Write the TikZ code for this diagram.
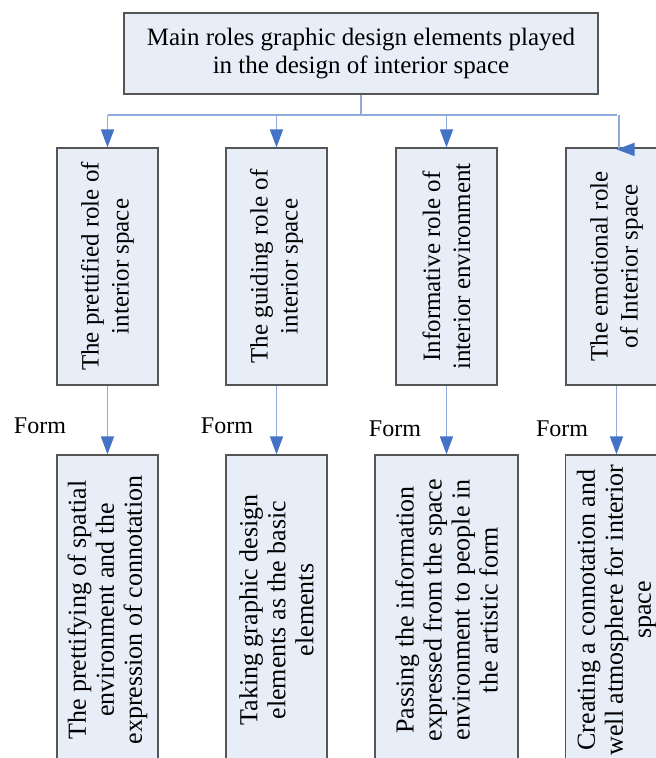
\documentclass[tikz,border=0pt]{standalone}
\usepackage{fontspec}
\setmainfont{Liberation Serif}
\usetikzlibrary{arrows.meta}
\definecolor{boxfill}{RGB}{232,238,248}
\definecolor{boxline}{RGB}{85,85,85}
\definecolor{linkline}{RGB}{143,170,220}
\definecolor{tipblue}{RGB}{68,114,196}

\begin{document}
\begin{tikzpicture}[x=1pt, y=-1pt,
    role/.style={draw=boxline, line width=1.2pt, fill=boxfill, inner sep=0pt, align=center},
    wire/.style={draw=linkline, line width=1.4pt},
    link/.style={wire, -{Triangle[width=13pt, length=18pt, color=tipblue]}}]
  \useasboundingbox (0,0) rectangle (656,758);
  % main box
  \node[role, minimum width=474pt, minimum height=81pt, font=\fontsize{25}{28}\selectfont] (main) at (361,53.5)
    {Main roles graphic design elements played\\in the design of interior space};
  \coordinate (bus) at (361,115);
  % roles
  \foreach \x/\t [count=\n] in {107.5/{The prettified role of\\interior space},
      276.5/{The guiding role of\\interior space},
      446.5/{Informative role of\\interior environment},
      616.5/{The emotional role\\of Interior space}} {
    \node[role, rotate=90, minimum width=237pt, minimum height=101pt, font=\fontsize{25}{30}\selectfont] (r\n) at (\x,266.5) {\t};
  }
  % results
  \foreach \x/\w/\t [count=\n] in {107.5/101/{The prettifying of spatial\\environment and the\\expression of connotation},
      276.5/101/{Taking graphic design\\elements as the basic\\elements},
      446.5/143/{Passing the information\\expressed from the space\\environment to people in\\the artistic form},
      616.5/102/{Creating a connotation and\\well atmosphere for interior\\space}} {
    \node[role, rotate=90, minimum width=310pt, minimum height=\w pt, font=\fontsize{26}{28}\selectfont] (b\n) at (\x,610) {\t};
  }
  % form labels
  \foreach \x/\y [count=\n] in {40/426,227/426,395/429,562/429} {
    \node[font=\fontsize{24}{28}\selectfont, inner sep=0pt] (f\n) at (\x,\y) {Form};
  }
  % connectors
  \draw[wire] (main) -- (bus);
  \draw[wire] (bus -| r1) -- (bus -| r4);
  \foreach \n in {1,2,3} {
    \draw[link] (bus -| r\n) -- (r\n);
  }
  \draw[link] ([xshift=2.5pt]bus -| r4) |- ([xshift=0pt, yshift=-2pt]r4.east);
  \foreach \n in {1,...,4} {
    \draw[link] (r\n) -- (b\n);
  }
\end{tikzpicture}
\end{document}
